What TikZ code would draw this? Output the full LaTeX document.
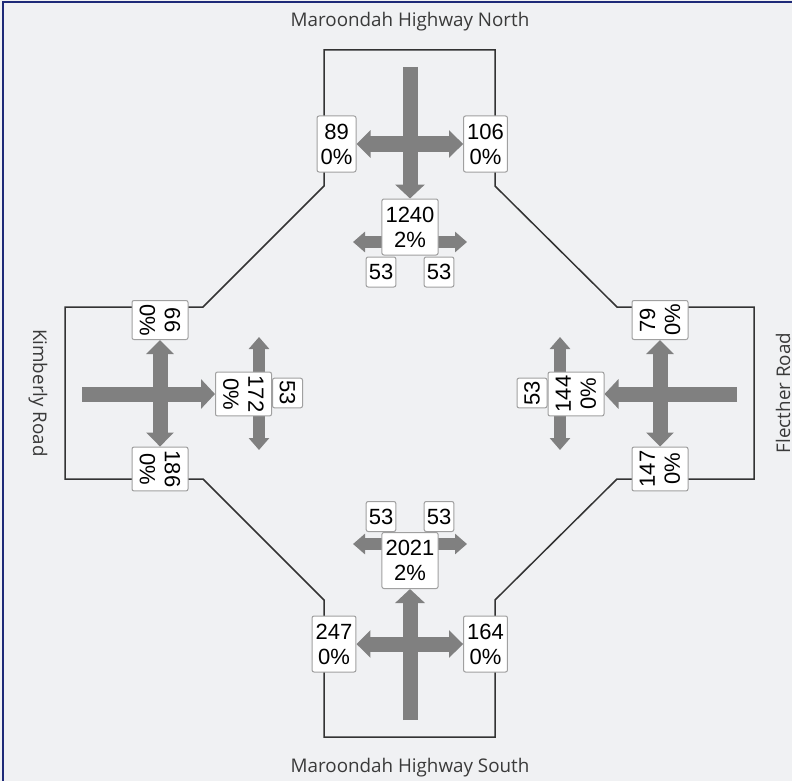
\documentclass[tikz,border=0pt]{standalone}
\usepackage{fontspec}
\setmainfont{Liberation Sans}
\newfontfamily\roadfont{Open Sans}
\usepackage{tikz}
\usetikzlibrary{arrows.meta,backgrounds}
\definecolor{panelGrey}{HTML}{F0F1F3}
\definecolor{frameBlue}{HTML}{1E2A78}
\definecolor{roadLine}{HTML}{333333}
\definecolor{roadText}{HTML}{3A3A3A}
\definecolor{boxLine}{HTML}{A0A0A0}
\definecolor{arrowGrey}{HTML}{808080}
\tikzset{
  countbox/.style={rectangle, rounded corners=1pt, draw=boxLine, fill=white, line width=0.5pt, align=center, font=\fontsize{11}{12.5}\selectfont, inner sep=1.8pt, minimum height=28pt},
  turnbox/.style={rectangle, rounded corners=1pt, draw=boxLine, fill=white, line width=0.5pt, font=\fontsize{11}{12.5}\selectfont, inner sep=1.3pt, minimum height=15pt},
  roadlabel/.style={font=\roadfont\fontsize{9.4}{11}\selectfont, text=roadText, inner sep=0pt},
  roadedge/.style={draw=roadLine, line width=0.75pt, line join=miter},
  % --- flow arrows ---
  mainflow/.style={-{Triangle[length=7pt,width=14.5pt]}, line width=7.5pt, draw=arrowGrey},
  sideflow/.style={{Triangle[length=7pt,width=13.5pt]}-{Triangle[length=7pt,width=13.5pt]}, line width=7.5pt, draw=arrowGrey},
  turnflow/.style={{Triangle[length=6pt,width=10pt]}-{Triangle[length=6pt,width=10pt]}, line width=6pt, draw=arrowGrey},
}

\begin{document}
\begin{tikzpicture}[x=0.5pt,y=-0.5pt]
  \useasboundingbox (0,0) rectangle (792,781);

  % Road names
  \node[roadlabel] (north) at (410,22) {Maroondah Highway North};
  \node[roadlabel] (south) at (410,768) {Maroondah Highway South};
  \node[roadlabel, rotate=-90] (west) at (38,393) {Kimberly Road};
  \node[roadlabel, rotate=90] (east) at (783,393) {Flecther Road};

  % North approach
  \node[countbox] (n89) at (336.5,144) {89\\0\%};
  \node[countbox] (n106) at (485.5,144) {106\\0\%};
  \node[countbox] (n1240) at (410,227) {1240\\2\%};
  \node[turnbox] (nl53) at (381,272) {53};
  \node[turnbox] (nr53) at (439,272) {53};

  % West approach (Kimberly Road)
  \node[countbox, rotate=-90] (w66) at (160,320) {66\\0\%};
  \node[countbox, rotate=-90] (w186) at (160,469) {186\\0\%};
  \node[countbox, rotate=-90] (w172) at (243.5,394) {172\\0\%};
  \node[turnbox, rotate=-90] (w53) at (287.5,393) {53};

  % East approach (Flecther Road)
  \node[countbox, rotate=90] (e79) at (660,320) {79\\0\%};
  \node[countbox, rotate=90] (e147) at (660,469) {147\\0\%};
  \node[countbox, rotate=90] (e144) at (576,394) {144\\0\%};
  \node[turnbox, rotate=90] (e53) at (532,393) {53};

  % South approach
  \node[countbox] (s247) at (334,644) {247\\0\%};
  \node[countbox] (s164) at (485.5,644) {164\\0\%};
  \node[countbox] (s2021) at (410,560.5) {2021\\2\%};
  \node[turnbox] (sl53) at (381,516.5) {53};
  \node[turnbox] (sr53) at (439,516.5) {53};

  % free ends of the arrows
  \coordinate (nIn) at (410,67);
  \coordinate (nTurnL) at (353,242);
  \coordinate (nTurnR) at (467,242);
  \coordinate (wIn) at (82,394);
  \coordinate (wTurnU) at (259,337);
  \coordinate (wTurnD) at (259,450);
  \coordinate (eIn) at (737,394);
  \coordinate (eTurnU) at (560,337);
  \coordinate (eTurnD) at (560,450);
  \coordinate (sIn) at (410,720);
  \coordinate (sTurnL) at (353,544);
  \coordinate (sTurnR) at (467,544);

  \begin{scope}[on background layer]
    \fill[panelGrey] (0,0) rectangle (792,781);
    \draw[frameBlue, line width=1pt] (3,800) -- (3,2) -- (800,2);

    % kerb outline of the intersection
    \draw[roadedge] (324,50) -- (495,50) -- (495,186) -- (617,307) -- (754,307)
      -- (754,479) -- (617,479) -- (495,600) -- (495,737) -- (324,737)
      -- (324,600) -- (203,479) -- (65,479) -- (65,307) -- (203,307)
      -- (324,186) -- cycle;

    % Flows
    \draw[mainflow] (nIn) -- (n1240);
    \draw[sideflow] (n89) -- (n106);
    \draw[turnflow] (nTurnL) -- (nTurnR);

    \draw[mainflow] (wIn) -- (w172);
    \draw[sideflow] (w66) -- (w186);
    \draw[turnflow] (wTurnU) -- (wTurnD);

    \draw[mainflow] (eIn) -- (e144);
    \draw[sideflow] (e79) -- (e147);
    \draw[turnflow] (eTurnU) -- (eTurnD);

    \draw[mainflow] (sIn) -- (s2021);
    \draw[sideflow] (s247) -- (s164);
    \draw[turnflow] (sTurnL) -- (sTurnR);
  \end{scope}
\end{tikzpicture}
\end{document}
